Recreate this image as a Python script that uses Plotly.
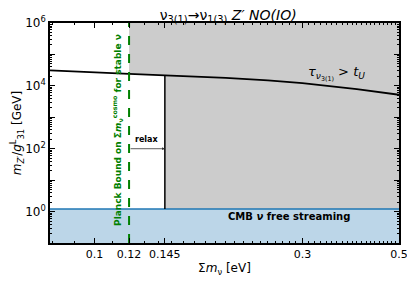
import numpy as np
import plotly.graph_objects as go

# ---- data ----
curve_x = [0.079, 0.09, 0.1, 0.12, 0.145, 0.2, 0.25, 0.3, 0.4, 0.5]
curve_y = [3.1e4, 2.9e4, 2.7e4, 2.4e4, 2.14e4, 1.8e4, 1.5e4, 1.23e4, 7.9e3, 5.2e3]
x_min, x_max = 0.079, 0.5
y_min, y_max = 0.1, 1e6
planck_bound = 0.12
relaxed_bound = 0.145
cmb_bound = 1.2
relax_y = 100
x_tickvals = [0.09, 0.1, 0.12, 0.145, 0.2, 0.3, 0.4, 0.5]
x_ticktext = ["", "0.1", "0.12", "0.145", "", "0.3", "", "0.5"]
y_decades = [-1, 0, 1, 2, 3, 4, 5, 6]

font = "DejaVu Sans"
fig = go.Figure()

def cval(x):
    return float(np.interp(np.log10(x), np.log10(curve_x), np.log10(curve_y)))

# gray excluded region
gx = [planck_bound, planck_bound]
gy = [y_max, 10 ** cval(planck_bound)]
for xv, yv in zip(curve_x, curve_y):
    if planck_bound < xv <= relaxed_bound:
        gx.append(xv); gy.append(yv)
gx += [relaxed_bound, x_max, x_max]
gy += [cmb_bound, cmb_bound, y_max]
fig.add_trace(go.Scatter(x=gx, y=gy, fill="toself", fillcolor="#cccccc",
                         line=dict(width=0), mode="lines", hoverinfo="skip"))

# blue CMB band
fig.add_trace(go.Scatter(x=[x_min, x_max, x_max, x_min], y=[y_min, y_min, cmb_bound, cmb_bound],
                         fill="toself", fillcolor="rgba(188,214,232,1)", line=dict(width=0),
                         mode="lines", hoverinfo="skip"))
fig.add_trace(go.Scatter(x=[x_min, x_max], y=[cmb_bound, cmb_bound], mode="lines",
                         line=dict(color="#1f77b4", width=1.5)))

# lifetime curve
fig.add_trace(go.Scatter(x=curve_x, y=curve_y, mode="lines", line=dict(color="black", width=1.8)))

# vertical relaxed bound line
fig.add_trace(go.Scatter(x=[relaxed_bound, relaxed_bound], y=[cmb_bound, 10 ** cval(relaxed_bound)],
                         mode="lines", line=dict(color="black", width=1.5)))

# Planck dashed line
fig.add_trace(go.Scatter(x=[planck_bound, planck_bound], y=[y_min, y_max], mode="lines",
                         line=dict(color="green", width=2, dash="dash")))

lx = np.log10
fig.add_annotation(x=lx(relaxed_bound), y=lx(relax_y), ax=lx(planck_bound), ay=lx(relax_y),
                   xref="x", yref="y", axref="x", ayref="y", text="", showarrow=True,
                   arrowhead=2, arrowsize=0.7, arrowwidth=0.8, arrowcolor="#333333")
fig.add_annotation(x=lx(np.sqrt(planck_bound * relaxed_bound)), y=lx(relax_y), yshift=9,
                   text="<b>relax</b>", showarrow=False, font=dict(size=8, color="black", family=font))
fig.add_annotation(x=lx(planck_bound), y=lx(np.sqrt(y_min * y_max)) + 0.1, xshift=-11,
                   text="<b>Planck Bound on Σ<i>m</i><sub>ν</sub><sup>cosmo</sup> for stable ν</b>",
                   textangle=-90, showarrow=False, font=dict(size=9, color="green", family=font))
fig.add_annotation(x=lx(0.36), y=lx(2.5e4), text="<i>τ</i><sub><i>ν</i><sub>3(1)</sub></sub> > <i>t<sub>U</sub></i>",
                   showarrow=False, font=dict(size=13, color="black", family=font))
fig.add_annotation(x=lx(0.28), y=lx(0.72), text="<b>CMB <i>ν</i> free streaming</b>",
                   showarrow=False, font=dict(size=10, color="black", family=font))

y_tickvals = [10.0 ** d for d in y_decades]
y_ticktext = ["" if d % 2 else "10<sup>%d</sup>" % d for d in y_decades]
y_minor = [m * 10.0 ** d for d in y_decades[:-1] for m in range(2, 10)]
x_minor = [v / 100 for v in range(8, 50)]

fig.update_layout(
    width=407, height=275, showlegend=False,
    margin=dict(l=42, r=16, t=15, b=40),
    plot_bgcolor="white", paper_bgcolor="white",
    font=dict(family=font, size=11, color="black"),
    title=dict(text="ν<sub>3(1)</sub>→ν<sub>1(3)</sub> <i>Z′ NO(IO)</i>", x=0.541, xanchor="center",
               y=0.975, yanchor="middle", font=dict(size=14, family=font)),
)
fig.update_xaxes(type="log", range=[lx(x_min), lx(x_max)], showgrid=False, zeroline=False,
                 automargin=False,
                 showline=True, linecolor="black", linewidth=1.5, mirror="ticks",
                 ticks="inside", ticklen=5, tickcolor="black", tickvals=x_tickvals, ticktext=x_ticktext,
                 tickfont=dict(size=11),
                 minor=dict(ticks="inside", ticklen=2, tickvals=x_minor, tickcolor="black", showgrid=False),
                 title=dict(text="Σ<i>m</i><sub>ν</sub> [eV]", font=dict(size=12), standoff=4))
fig.update_yaxes(type="log", range=[lx(y_min), lx(y_max)], showgrid=False, zeroline=False,
                 automargin=False,
                 showline=True, linecolor="black", linewidth=1.5, mirror="ticks",
                 ticks="inside", ticklen=5, tickcolor="black", tickvals=y_tickvals, ticktext=y_ticktext,
                 tickfont=dict(size=12),
                 minor=dict(ticks="inside", ticklen=2, tickvals=y_minor, tickcolor="black", showgrid=False),
                 title=dict(text="<i>m</i><sub><i>Z′</i></sub>/<i>g</i><sup>L</sup><sub>31</sub> [GeV]",
                            font=dict(size=12), standoff=2))

fig.write_html("out.html")
